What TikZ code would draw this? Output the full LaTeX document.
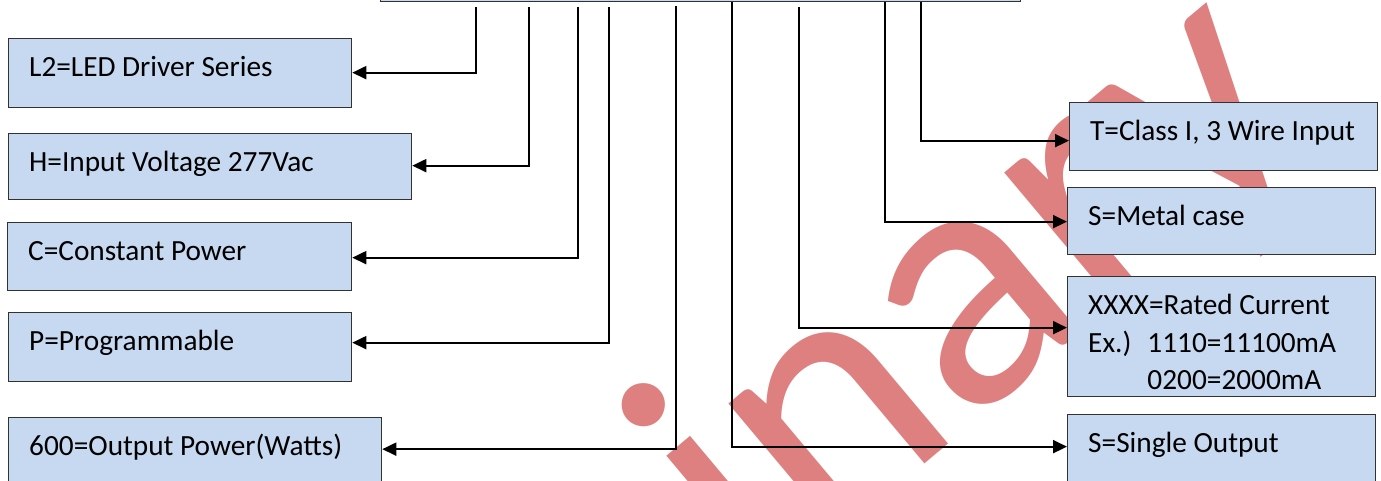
\documentclass[tikz,border=0pt]{standalone}
\usepackage{fontspec}
\setmainfont{Carlito}
\usetikzlibrary{arrows.meta}
\definecolor{boxfill}{RGB}{198,217,241}
\definecolor{boxline}{RGB}{50,50,50}
\definecolor{wm}{RGB}{223,128,128}
\newcommand{\lblfont}{\fontsize{29.3}{37.5}\selectfont}
\newcommand{\wmfont}{\fontsize{360}{360}\selectfont}
\tikzset{
  box/.style={draw=boxline, fill=boxfill, line width=1.3pt, inner sep=0pt, anchor=north west},
  lbl/.style={anchor=base west, inner sep=0pt, font=\lblfont, align=left, text=black},
  conn/.style={draw=black, line width=2pt, -{Triangle[length=14pt,width=13pt]}},
}
\begin{document}
\begin{tikzpicture}[x=1pt,y=-1pt]
\useasboundingbox (0,0) rectangle (1381,481);
% watermark
\begin{scope}
\clip (0,0) rectangle (1381,481);
\node[anchor=base west, rotate=40, inner sep=0pt, font=\wmfont, text=wm] (wmark) at (38,1208) {Preliminary};
\end{scope}
% top box
\node[box, anchor=south west, minimum width=640pt, minimum height=62pt] (code) at (380,2) {};
% left boxes
\node[box, minimum width=343pt, minimum height=69pt] (l2) at (8,38) {};
\node[box, minimum width=403pt, minimum height=66pt] (hv) at (8,133) {};
\node[box, minimum width=344pt, minimum height=68pt] (cp) at (7,222) {};
\node[box, minimum width=343pt, minimum height=69pt] (pg) at (8,312) {};
\node[box, minimum width=373pt, minimum height=80pt] (op) at (8,417) {};
% right boxes
\node[box, minimum width=308pt, minimum height=68pt] (tc) at (1069,102) {};
\node[box, minimum width=308pt, minimum height=67pt] (mc) at (1067,187) {};
\node[box, minimum width=308pt, minimum height=120pt] (rc) at (1067,276) {};
\node[box, minimum width=308pt, minimum height=80pt] (so) at (1067,414) {};
% labels
\node[lbl] (l2t) at ([xshift=21pt,yshift=-38.5pt]l2.north west) {L2=LED Driver Series};
\node[lbl] (hvt) at ([xshift=21pt,yshift=-38.5pt]hv.north west) {H=Input Voltage 277Vac};
\node[lbl] (cpt) at ([xshift=21pt,yshift=-38.5pt]cp.north west) {C=Constant Power};
\node[lbl] (pgt) at ([xshift=21pt,yshift=-38.5pt]pg.north west) {P=Programmable};
\node[lbl] (opt) at ([xshift=21pt,yshift=-38.5pt]op.north west) {600=Output Power(Watts)};
\node[lbl] (tct) at ([xshift=21pt,yshift=-38.5pt]tc.north west) {T=Class I, 3 Wire Input};
\node[lbl] (mct) at ([xshift=21pt,yshift=-38.5pt]mc.north west) {S=Metal case};
\node[lbl, anchor=north west] (rct) at ([xshift=21pt,yshift=-18pt]rc.north west) {XXXX=Rated Current\\Ex.)\hspace{16pt}1110=11100mA\\\phantom{Ex.)}\hspace{16pt}0200=2000mA};
\node[lbl] (sot) at ([xshift=21pt,yshift=-38.5pt]so.north west) {S=Single Output};
% connector start points
\coordinate (a1) at (476,7);
\coordinate (a2) at (529,7);
\coordinate (a3) at (578,7);
\coordinate (a4) at (609,7);
\coordinate (a5) at (676,6);
\coordinate (a6) at (732,2);
\coordinate (a7) at (799,7);
\coordinate (a8) at (885,2);
\coordinate (a9) at (921,2);
% connectors
\draw[conn] (a1) |- ([yshift=0.5pt]l2.east);
\draw[conn] (a2) |- ([yshift=1pt]hv.east);
\draw[conn] (a3) |- ([yshift=-1pt]cp.east);
\draw[conn] (a4) |- ([yshift=4.5pt]pg.east);
\draw[conn] (a5) |- ([yshift=8.5pt]op.east);
\draw[conn] (a6) |- ([yshift=8pt]so.west);
\draw[conn] (a7) |- ([yshift=9pt]rc.west);
\draw[conn] (a8) |- ([yshift=-0.5pt]mc.west);
\draw[conn] (a9) |- ([yshift=-4pt]tc.west);
\end{tikzpicture}
\end{document}
